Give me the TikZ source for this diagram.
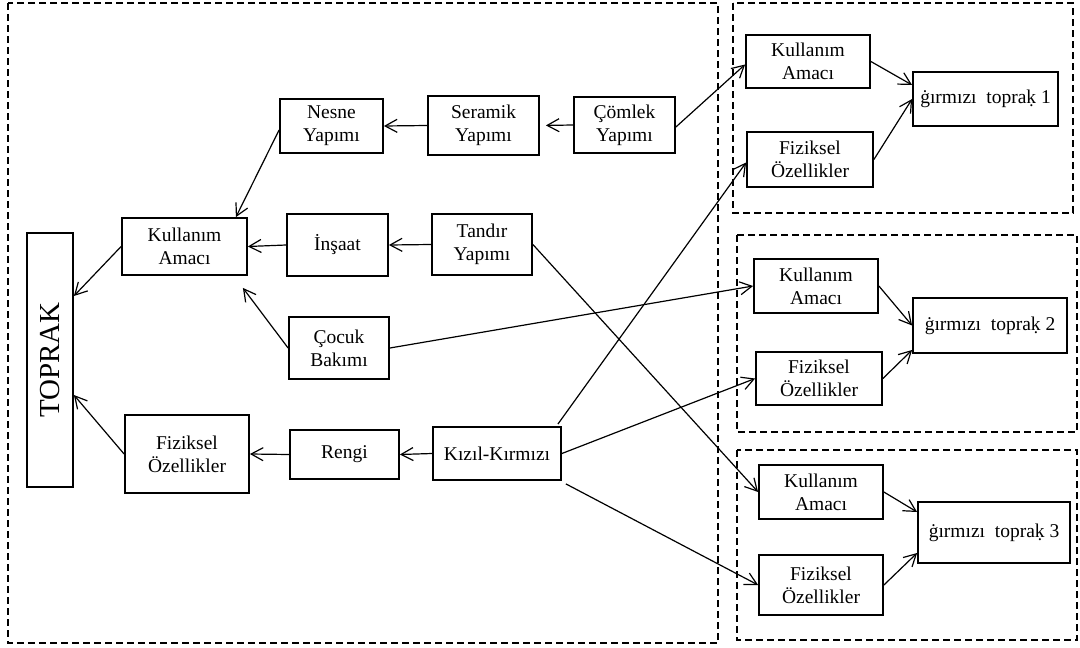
\documentclass[tikz,border=0pt]{standalone}
\usepackage{fontspec}
\setmainfont{Liberation Serif}
\usetikzlibrary{arrows.meta}

\begin{document}
\begin{tikzpicture}[x=1pt,y=-1pt,
  box/.style={draw, line width=1.8pt, align=center, inner sep=0pt,
    font=\fontsize{19.5}{23}\selectfont},
  group/.style={draw, line width=1.6pt, dash pattern=on 7pt off 4pt},
  arr/.style={line width=1.2pt, -{Straight Barb[length=12pt,width=13pt,line width=1.2pt]}}]
\useasboundingbox (0,0) rectangle (1080,648);

% dashed frames
\draw[group] (8,3) rectangle (718,643);
\draw[group] (733,3) rectangle (1073,213);
\draw[group] (737,235) rectangle (1077,432);
\draw[group] (737,450) rectangle (1077,640);

% left tree
\node[box, minimum width=46pt, minimum height=254pt] (toprak) at (50,360)
  {\rotatebox{90}{\fontsize{29}{30}\selectfont TOPRAK}};
\node[box, minimum width=125pt, minimum height=57pt] (kam) at (184.5,246.5) {Kullanım\\Amacı};
\node[box, minimum width=124pt, minimum height=78pt] (fiz) at (187,454) {Fiziksel\\Özellikler};
\node[box, minimum width=103pt, minimum height=54pt] (nesne) at (331.5,126) {Nesne\\Yapımı};
\node[box, minimum width=101pt, minimum height=62pt] (insaat) at (337.5,245) {İnşaat};
\node[box, minimum width=100pt, minimum height=62pt] (cocuk) at (339,348) {Çocuk\\Bakımı};
\node[box, minimum width=109pt, minimum height=49pt] (rengi) at (344.5,454.5) {Rengi};
\node[box, minimum width=111pt, minimum height=59pt] (seramik) at (483.5,125.5) {Seramik\\Yapımı};
\node[box, minimum width=101pt, minimum height=56pt] (comlek) at (624.5,125) {Çömlek\\Yapımı};
\node[box, minimum width=100pt, minimum height=61pt] (tandir) at (482,244.5) {Tandır\\Yapımı};
\node[box, minimum width=128pt, minimum height=53pt] (kizil) at (497,453.5) {Kızıl-Kırmızı};

% right groups
\node[box, minimum width=124pt, minimum height=53pt] (k1) at (808,61.5) {Kullanım\\Amacı};
\node[box, minimum width=126pt, minimum height=55pt] (f1) at (810,159.5) {Fiziksel\\Özellikler};
\node[box, minimum width=145pt, minimum height=54pt] (r1) at (985.5,99) {ġırmızı\ \ topraḳ 1};
\node[box, minimum width=124pt, minimum height=54pt] (k2) at (816,286) {Kullanım\\Amacı};
\node[box, minimum width=126pt, minimum height=53pt] (f2) at (819,378.5) {Fiziksel\\Özellikler};
\node[box, minimum width=154pt, minimum height=55pt] (r2) at (990,325.5) {ġırmızı\ \ topraḳ 2};
\node[box, minimum width=124pt, minimum height=54pt] (k3) at (821,492) {Kullanım\\Amacı};
\node[box, minimum width=124pt, minimum height=60pt] (f3) at (821,585) {Fiziksel\\Özellikler};
\node[box, minimum width=152pt, minimum height=61pt] (r3) at (994,532.5) {ġırmızı\ \ topraḳ 3};

% connectors of the left tree
\draw[arr] ([yshift=-4pt]nesne.west) -- ([xshift=-12pt]kam.north east);
\draw[arr] (seramik.west) -- (nesne.east);
\draw[arr, shorten >=6pt] (comlek.west) -- (seramik.east);
\draw[arr] (insaat.west) -- (kam.east);
\draw[arr] (tandir.west) -- (insaat.east);
\draw[arr] (cocuk.west) -- ([xshift=-5pt,yshift=-12pt]kam.south east);
\draw[arr] (kam.west) -- ([yshift=64pt]toprak.east);
\draw[arr] (fiz.west) -- ([yshift=-35pt]toprak.east);
\draw[arr] (rengi.west) -- (fiz.east);
\draw[arr] (kizil.west) -- (rengi.east);

% connectors into the groups
\draw[arr] ([yshift=-2pt]comlek.east) -- ([yshift=-3pt]k1.west);
\draw[arr] (tandir.east) -- (k3.west);
\draw[arr] (cocuk.east) -- (k2.west);
\draw[arr] ([xshift=-4pt,yshift=2pt]kizil.north east) -- ([yshift=-3pt]f1.west);
\draw[arr] (kizil.east) -- (f2.west);
\draw[arr] ([xshift=4pt,yshift=-3pt]kizil.south east) -- (f3.west);

% connectors inside the groups
\draw[arr] (k1.east) -- ([yshift=14pt]r1.west);
\draw[arr] (f1.east) -- (r1.west);
\draw[arr] (k2.east) -- (r2.west);
\draw[arr] (f2.east) -- ([yshift=-24.5pt]r2.west);
\draw[arr] (k3.east) -- ([yshift=20.5pt]r3.west);
\draw[arr] (f3.east) -- ([yshift=-20.5pt]r3.west);
\end{tikzpicture}
\end{document}
